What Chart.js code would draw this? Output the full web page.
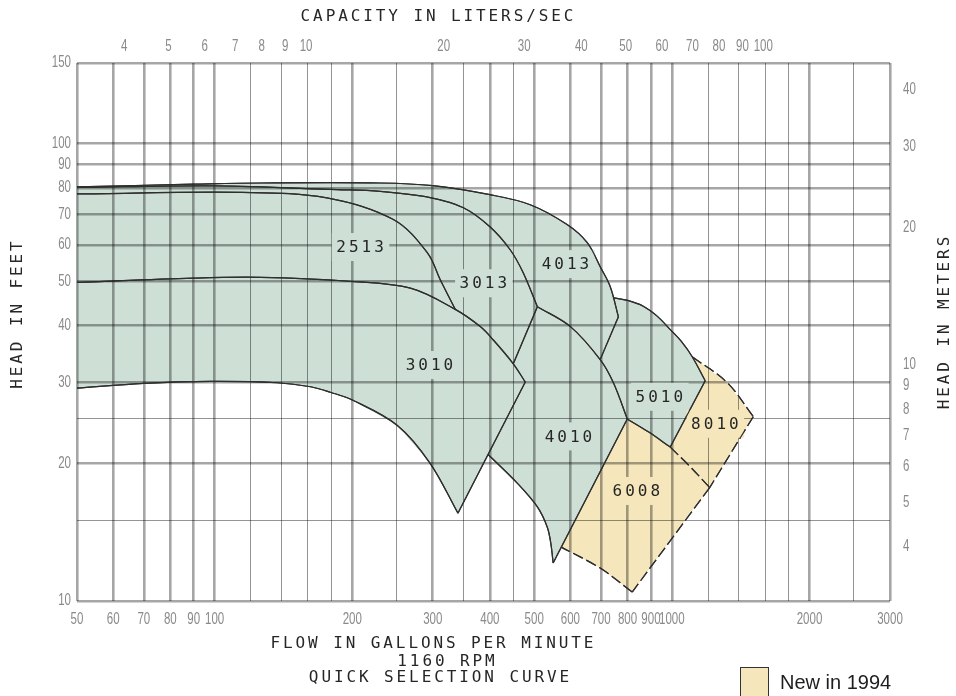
<!DOCTYPE html>
<html lang="en">
<head>
  <meta charset="UTF-8" />
  <title>Quick Selection Curve - 1160 RPM</title>
  <script src="https://cdn.jsdelivr.net/npm/chart.js"></script>
  <style>
    body {
      margin: 0;
      background: #fff;
    }
    .wrap {
      position: relative;
      width: 956px;
      height: 696px;
    }
  </style>
</head>
<body>
  <div class="wrap">
    <canvas id="curveChart"></canvas>
  </div>

  <script>
    // grid lines and tick labels
    const flowGrid = [50, 60, 70, 80, 90, 100, 120, 140, 160, 180, 200, 250, 300, 350, 400, 450,
      500, 600, 700, 800, 900, 1000, 1200, 1400, 1600, 1800, 2000, 2500, 3000];
    const flowLabels = [50, 60, 70, 80, 90, 100, 200, 300, 400, 500, 600, 700, 800, 900, 1000, 2000, 3000];
    const headGrid = [10, 15, 20, 25, 30, 40, 50, 60, 70, 80, 90, 100, 150];
    const headLabels = [10, 20, 30, 40, 50, 60, 70, 80, 90, 100, 150];
    const lpsLabels = [4, 5, 6, 7, 8, 9, 10, 20, 30, 40, 50, 60, 70, 80, 90, 100];
    const meterLabels = [4, 5, 6, 7, 8, 9, 10, 20, 30, 40];

    const GPM_TO_LPS = 0.0630902;
    const FT_TO_M = 0.3048;

    // pump curves, [gallons per minute, feet of head]
    const top4013 = [[50, 80.4], [90, 81.5], [126, 82.0], [230, 82.0], [300, 80.9], [400, 77.3],
      [490, 73.5], [590, 66.5], [653, 60.7], [697, 53.8], [733, 48.7], [764, 41.8]];
    const edge4013 = [[764, 41.8], [697, 33.7]];

    const top3013 = [[50, 80.2], [100, 80.8], [185, 79.3], [230, 78.6], [296, 76.2], [350, 72.4],
      [400, 65.8], [443, 58.6], [473, 52.2], [508, 44.0]];
    const edge3013 = [[508, 44.0], [450, 33.0]];

    const top2513 = [[50, 77.6], [115, 78.2], [176, 76.1], [246, 68.2], [292, 57.7], [311.5, 50.4], [336, 43.4]];

    const top3010 = [[50, 49.7], [90, 50.8], [126, 51.0], [197, 50.0], [268, 48.3], [336, 43.4],
      [381, 39.8], [407, 37.2], [450, 33.0], [478, 30.1]];
    const edge3010 = [[478, 30.1], [340.5, 15.56]];
    const bot3010 = [[50, 29.2], [70, 29.9], [98, 30.2], [137, 30.0], [162, 29.4], [179, 28.6],
      [200, 27.5], [251, 24.2], [296, 20.0], [340.5, 15.56]];

    const top4010 = [[508, 44.0], [600, 39.8], [697, 33.7], [745, 30.0], [799, 25.0]];
    const edge4010 = [[799, 25.0], [550, 12.11]];
    const bot4010 = [[396.5, 20.9], [459, 18.1], [508, 16.06], [534, 14.5], [544, 13.3], [550, 12.11]];

    const top5010 = [[745, 46.0], [800, 45.4], [866, 44.1], [930, 41.9], [992, 39.2], [1050, 36.9],
      [1108, 34.2], [1183, 30.3]];
    const edge5010 = [[1183, 30.3], [992, 21.7]];
    const bot5010 = [[992, 21.7], [890, 23.4], [799, 25.0]];

    const top6008 = [[992, 21.7], [1097, 19.65], [1210, 17.7]];
    const edge6008 = [[1210, 17.7], [819, 10.46]];
    const bot6008 = [[819, 10.46], [697, 11.8], [574, 13.1]];

    const top8010 = [[1108, 34.2], [1322, 30.0], [1507, 25.3]];
    const edge8010 = [[1507, 25.3], [1210, 17.7]];

    // model names and where they sit
    const pumpNames = ['2513', '3013', '4013', '3010', '4010', '5010', '8010', '6008'];
    const labelFlow = [208, 387, 585, 295, 594, 939, 1242, 836];
    const labelHead = [59.4, 49.5, 54.5, 32.8, 22.9, 27.95, 24.4, 17.4];
    const newIn1994 = [false, false, false, false, false, false, true, true];

    const GREEN = '#cedfd6';
    const YELLOW = '#f5e7bb';
    const INK = '#2f2f2f';

    const xy = list => list.map(([x, y]) => ({ x, y }));
    const rev = list => list.slice().reverse();
    const below = (list, gpm) => list.filter(p => p[0] < gpm);
    const last = list => list[list.length - 1];

    // filled regions, built from the curves above
    const area3010 = [...top3010, ...rev(bot3010)];
    const area2513 = [...top2513, ...rev(below(top3010, last(top2513)[0]))];
    const area3013 = [...top3013, edge3013[1], ...rev(below(top3010, edge3013[1][0]))];
    const area4013 = [...top4013, ...rev(top4010.filter(p => p[0] <= edge4013[1][0])),
      edge3013[1], ...rev(below(top3010, edge3013[1][0]))];
    const area4010 = [...top4010, ...rev(bot4010), last(top3010), edge3013[1]];
    const area5010 = [...top5010, ...bot5010,
      ...rev(top4010.filter(p => p[0] < last(bot5010)[0] && p[0] >= edge4013[1][0])), edge4013[0]];
    const area6008 = [...rev(bot5010), ...top6008.slice(1), ...bot6008];
    const area8010 = [...top8010, ...rev(top6008), edge5010[0]];

    function area(points, color) {
      return {
        data: xy(points),
        fill: 'shape',
        backgroundColor: color,
        borderColor: 'transparent',
        borderWidth: 0,
        pointRadius: 0,
        tension: 0,
        order: 5,
        xAxisID: 'x',
        yAxisID: 'y'
      };
    }

    function edge(points, dashed, curved) {
      return {
        data: xy(points),
        fill: false,
        borderColor: INK,
        borderWidth: 1.2,
        borderDash: dashed ? [11, 4] : [],
        pointRadius: 0,
        tension: curved ? 0.35 : 0,
        order: 1,
        outline: true,
        xAxisID: 'x',
        yAxisID: 'y'
      };
    }

    const datasets = [
      area(area4013, GREEN), area(area3013, GREEN), area(area2513, GREEN), area(area3010, GREEN),
      area(area4010, GREEN), area(area5010, GREEN), area(area6008, YELLOW), area(area8010, YELLOW),
      edge(top4013, false, true), edge(edge4013, false, false),
      edge(top3013, false, true), edge(edge3013, false, false),
      edge(top2513, false, true),
      edge(top3010, false, true), edge(edge3010, false, false), edge(bot3010, false, true),
      edge(top4010, false, true), edge(edge4010, false, false), edge(bot4010, false, true),
      edge(top5010, false, true), edge(edge5010, false, false), edge(bot5010, false, true),
      edge(top6008, true, true), edge(edge6008, true, false), edge(bot6008, true, true),
      edge(top8010, true, true), edge(edge8010, true, false)
    ];

    const TICK_GREY = '#8a8a8a';
    const TICK_FONT = '16px "Liberation Sans", Arial, sans-serif';
    const NARROW = 0.72; // the drawing uses a tall narrow digit face
    const CAD_FONT = '16px "DejaVu Sans Mono", "Liberation Mono", monospace';

    const gridColor = labels => c => (c.tick && labels.includes(c.tick.value)) ? 'rgba(0,0,0,0.35)' : 'rgba(0,0,0,0.42)';
    const gridWidth = labels => c => (c.tick && labels.includes(c.tick.value)) ? 2.6 : 1;

    function spacedText(ctx, text, x, y, spacing) {
      ctx.letterSpacing = spacing + 'px';
      ctx.fillText(text, x + spacing / 2, y);
    }

    // tick label in narrow digits at a scale position
    function narrowText(ctx, text, x, y, align) {
      ctx.save();
      ctx.translate(x, y);
      ctx.scale(NARROW, 1);
      ctx.textAlign = align;
      ctx.fillText(text, 0, 0);
      ctx.restore();
    }

    const overlay = {
      id: 'overlay',
      afterDraw(chart) {
        const { ctx, chartArea: a, scales } = chart;

        // tick labels on all four sides
        ctx.save();
        ctx.font = TICK_FONT;
        ctx.fillStyle = TICK_GREY;
        ctx.textBaseline = 'middle';
        flowLabels.forEach(v => narrowText(ctx, String(v), scales.x.getPixelForValue(v), a.bottom + 19, 'center'));
        lpsLabels.forEach(v => narrowText(ctx, String(v), scales.x2.getPixelForValue(v), a.top - 16, 'center'));
        headLabels.forEach(v => narrowText(ctx, String(v), a.left - 6, scales.y.getPixelForValue(v), 'right'));
        meterLabels.forEach(v => narrowText(ctx, String(v), a.right + 13, scales.y2.getPixelForValue(v), 'left'));
        ctx.restore();

        ctx.save();
        ctx.font = CAD_FONT;
        ctx.textAlign = 'center';
        ctx.textBaseline = 'middle';

        // clear the grid behind each model name
        ctx.letterSpacing = '3px';
        pumpNames.forEach((name, i) => {
          const px = scales.x.getPixelForValue(labelFlow[i]);
          const py = scales.y.getPixelForValue(labelHead[i]);
          const w = ctx.measureText(name).width;
          ctx.fillStyle = newIn1994[i] ? YELLOW : GREEN;
          ctx.fillRect(px - w / 2 - 3, py - 14, w + 7, 28);
        });
        ctx.restore();

        // outlines back on top of the grid
        chart.data.datasets.forEach((ds, i) => {
          if (ds.outline) chart.getDatasetMeta(i).dataset.draw(ctx, a);
        });

        ctx.save();
        ctx.font = CAD_FONT;
        ctx.textAlign = 'center';
        ctx.textBaseline = 'middle';
        ctx.fillStyle = '#262626';
        pumpNames.forEach((name, i) => {
          const px = scales.x.getPixelForValue(labelFlow[i]);
          const py = scales.y.getPixelForValue(labelHead[i]);
          spacedText(ctx, name, px, py + 1, 3);
        });

        // axis titles
        spacedText(ctx, 'CAPACITY IN LITERS/SEC', 437, 17, 2.9);
        spacedText(ctx, 'FLOW IN GALLONS PER MINUTE', 432, 644, 2.9);
        spacedText(ctx, '1160 RPM', 446, 662, 2.9);
        spacedText(ctx, 'QUICK SELECTION CURVE', 439, 678, 2.9);

        ctx.save();
        ctx.translate(18, 315);
        ctx.rotate(-Math.PI / 2);
        spacedText(ctx, 'HEAD IN FEET', 0, 0, 2.9);
        ctx.restore();

        ctx.save();
        ctx.translate(945, 323);
        ctx.rotate(-Math.PI / 2);
        spacedText(ctx, 'HEAD IN METERS', 0, 0, 2.9);
        ctx.restore();

        // legend
        ctx.letterSpacing = '0px';
        ctx.fillStyle = YELLOW;
        ctx.strokeStyle = '#333';
        ctx.lineWidth = 1;
        ctx.fillRect(740.5, 667.5, 28, 34);
        ctx.strokeRect(740.5, 667.5, 28, 34);
        ctx.fillStyle = '#1e1e1e';
        ctx.font = '20px "Liberation Sans", Arial, sans-serif';
        ctx.textAlign = 'left';
        ctx.fillText('New in 1994', 780, 683);
        ctx.restore();
      }
    };

    const ctx = document.getElementById('curveChart').getContext('2d');

    const chart = new Chart(ctx, {
      type: 'line',
      data: { datasets },
      plugins: [overlay],
      options: {
        responsive: true,
        maintainAspectRatio: false,
        animation: false,
        indexAxis: 'y',
        events: [],
        layout: { padding: 0 },
        plugins: {
          legend: { display: false },
          tooltip: { enabled: false },
          title: { display: false }
        },
        scales: {
          x: {
            type: 'logarithmic',
            axis: 'x',
            position: 'bottom',
            min: 50,
            max: 3000,
            z: 1,
            afterBuildTicks: s => { s.ticks = flowGrid.map(v => ({ value: v })); },
            afterFit: s => { s.height = 95; },
            grid: { z: 1, drawTicks: false, color: gridColor(flowLabels), lineWidth: gridWidth(flowLabels) },
            border: { display: false },
            ticks: { display: false }
          },
          x2: {
            type: 'logarithmic',
            axis: 'x',
            position: 'top',
            min: 50 * GPM_TO_LPS,
            max: 3000 * GPM_TO_LPS,
            afterBuildTicks: s => { s.ticks = lpsLabels.map(v => ({ value: v })); },
            afterFit: s => { s.height = 63; },
            grid: { display: false, drawTicks: false },
            border: { display: false },
            ticks: { display: false }
          },
          y: {
            type: 'logarithmic',
            axis: 'y',
            position: 'left',
            min: 10,
            max: 150,
            z: 1,
            afterBuildTicks: s => { s.ticks = headGrid.map(v => ({ value: v })); },
            afterFit: s => { s.width = 77; },
            grid: { z: 1, drawTicks: false, color: gridColor(headLabels), lineWidth: gridWidth(headLabels) },
            border: { display: false },
            ticks: { display: false }
          },
          y2: {
            type: 'logarithmic',
            axis: 'y',
            position: 'right',
            min: 10 * FT_TO_M,
            max: 150 * FT_TO_M,
            afterBuildTicks: s => { s.ticks = meterLabels.map(v => ({ value: v })); },
            afterFit: s => { s.width = 66; },
            grid: { display: false, drawTicks: false },
            border: { display: false },
            ticks: { display: false }
          }
        }
      }
    });
  </script>
</body>
</html>
